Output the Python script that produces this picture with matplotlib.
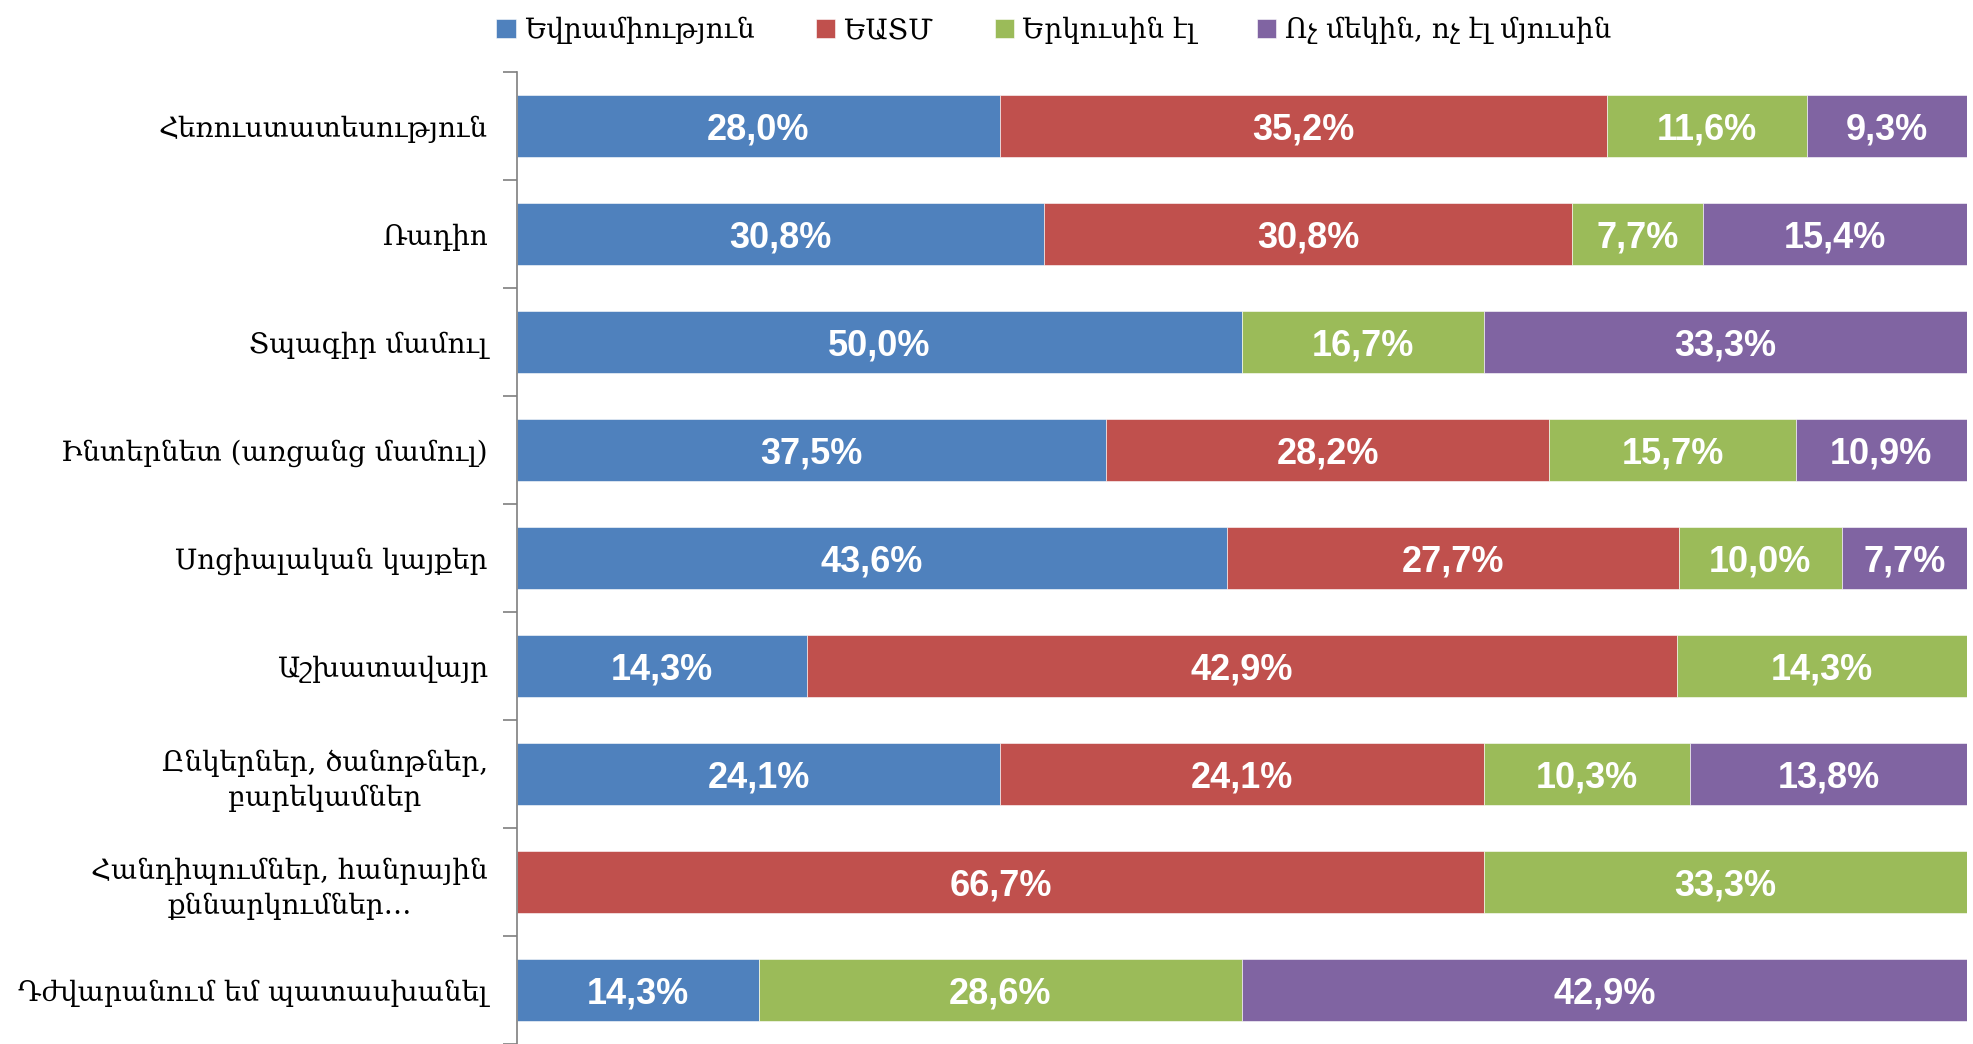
import numpy as np
import matplotlib
matplotlib.use('Agg')
import matplotlib.pyplot as plt

### Data ---------------------------------------------------------------------------------------------------------------

categories = [
    'Հեռուստատեսություն',
    'Ռադիո',
    'Տպագիր մամուլ',
    'Ինտերնետ (առցանց մամուլ)',
    'Սոցիալական կայքեր',
    'Աշխատավայր',
    'Ընկերներ, ծանոթներ,\nբարեկամներ',
    'Հանդիպումներ, հանրային\nքննարկումներ…',
    'Դժվարանում եմ պատասխանել',
]

seriesNames = ['Եվրամիություն', 'ԵԱՏՄ', 'Երկուսին էլ', 'Ոչ մեկին, ոչ էլ մյուսին']

eu = [28.0, 30.8, 50.0, 37.5, 43.6, 14.3, 24.1, 0.0, 14.3]
eaeu = [35.2, 30.8, 0.0, 28.2, 27.7, 42.9, 24.1, 66.7, 0.0]
both = [11.6, 7.7, 16.7, 15.7, 10.0, 14.3, 10.3, 33.3, 28.6]
neither = [9.3, 15.4, 33.3, 10.9, 7.7, 0.0, 13.8, 0.0, 42.9]

colors = ['#4F81BD', '#C0504D', '#9BBB59', '#8064A2']

### Plot ---------------------------------------------------------------------------------------------------------------

values = np.array([eu, eaeu, both, neither])
rowTotals = values.sum(axis=0)
shares = values / rowTotals * 100.0   # 100% stacked

fig = plt.figure(figsize=(19.73, 10.44), dpi=100)
ax = fig.add_axes([517 / 1973, 0.0, (1967 - 517) / 1973, (1044 - 72) / 1044])

y = np.arange(len(categories))
left = np.zeros(len(categories))
for i in range(4):
    ax.barh(y, shares[i], left=left, height=0.58, color=colors[i], label=seriesNames[i],
            edgecolor='white', linewidth=0.4)
    for j in range(len(categories)):
        if values[i][j] > 0:
            ax.text(left[j] + shares[i][j] / 2, y[j], ('%.1f%%' % values[i][j]).replace('.', ','),
                    ha='center', va='center_baseline', color='white', fontsize=26, fontweight='bold',
                    family='Liberation Sans')
    left += shares[i]

ax.set_xlim(0, 100)
ax.set_ylim(8.475, -0.5)
ax.set_xticks([])
ax.set_yticks(y)
ax.set_yticklabels(categories, family=['DejaVu Serif', 'DejaVu Sans'], fontsize=20, ha='right',
                   multialignment='center', linespacing=1.35)
ax.tick_params(axis='y', which='major', length=0, pad=21)
ax.set_yticks(np.arange(-0.5, len(categories), 1), minor=True)
ax.tick_params(axis='y', which='minor', length=10, color='#7f7f7f', width=1.2)

for side in ['top', 'right', 'bottom']:
    ax.spines[side].set_visible(False)
ax.spines['left'].set_color('#7f7f7f')
ax.spines['left'].set_linewidth(1.2)

fig.legend(loc='upper center', bbox_to_anchor=(0.534, 1.008), ncol=4, frameon=False,
           prop={'family': ['DejaVu Serif', 'DejaVu Sans'], 'size': 20},
           handlelength=0.7, handleheight=0.7, handletextpad=0.3, columnspacing=2.2)

fig.savefig('out.png', dpi=100)
